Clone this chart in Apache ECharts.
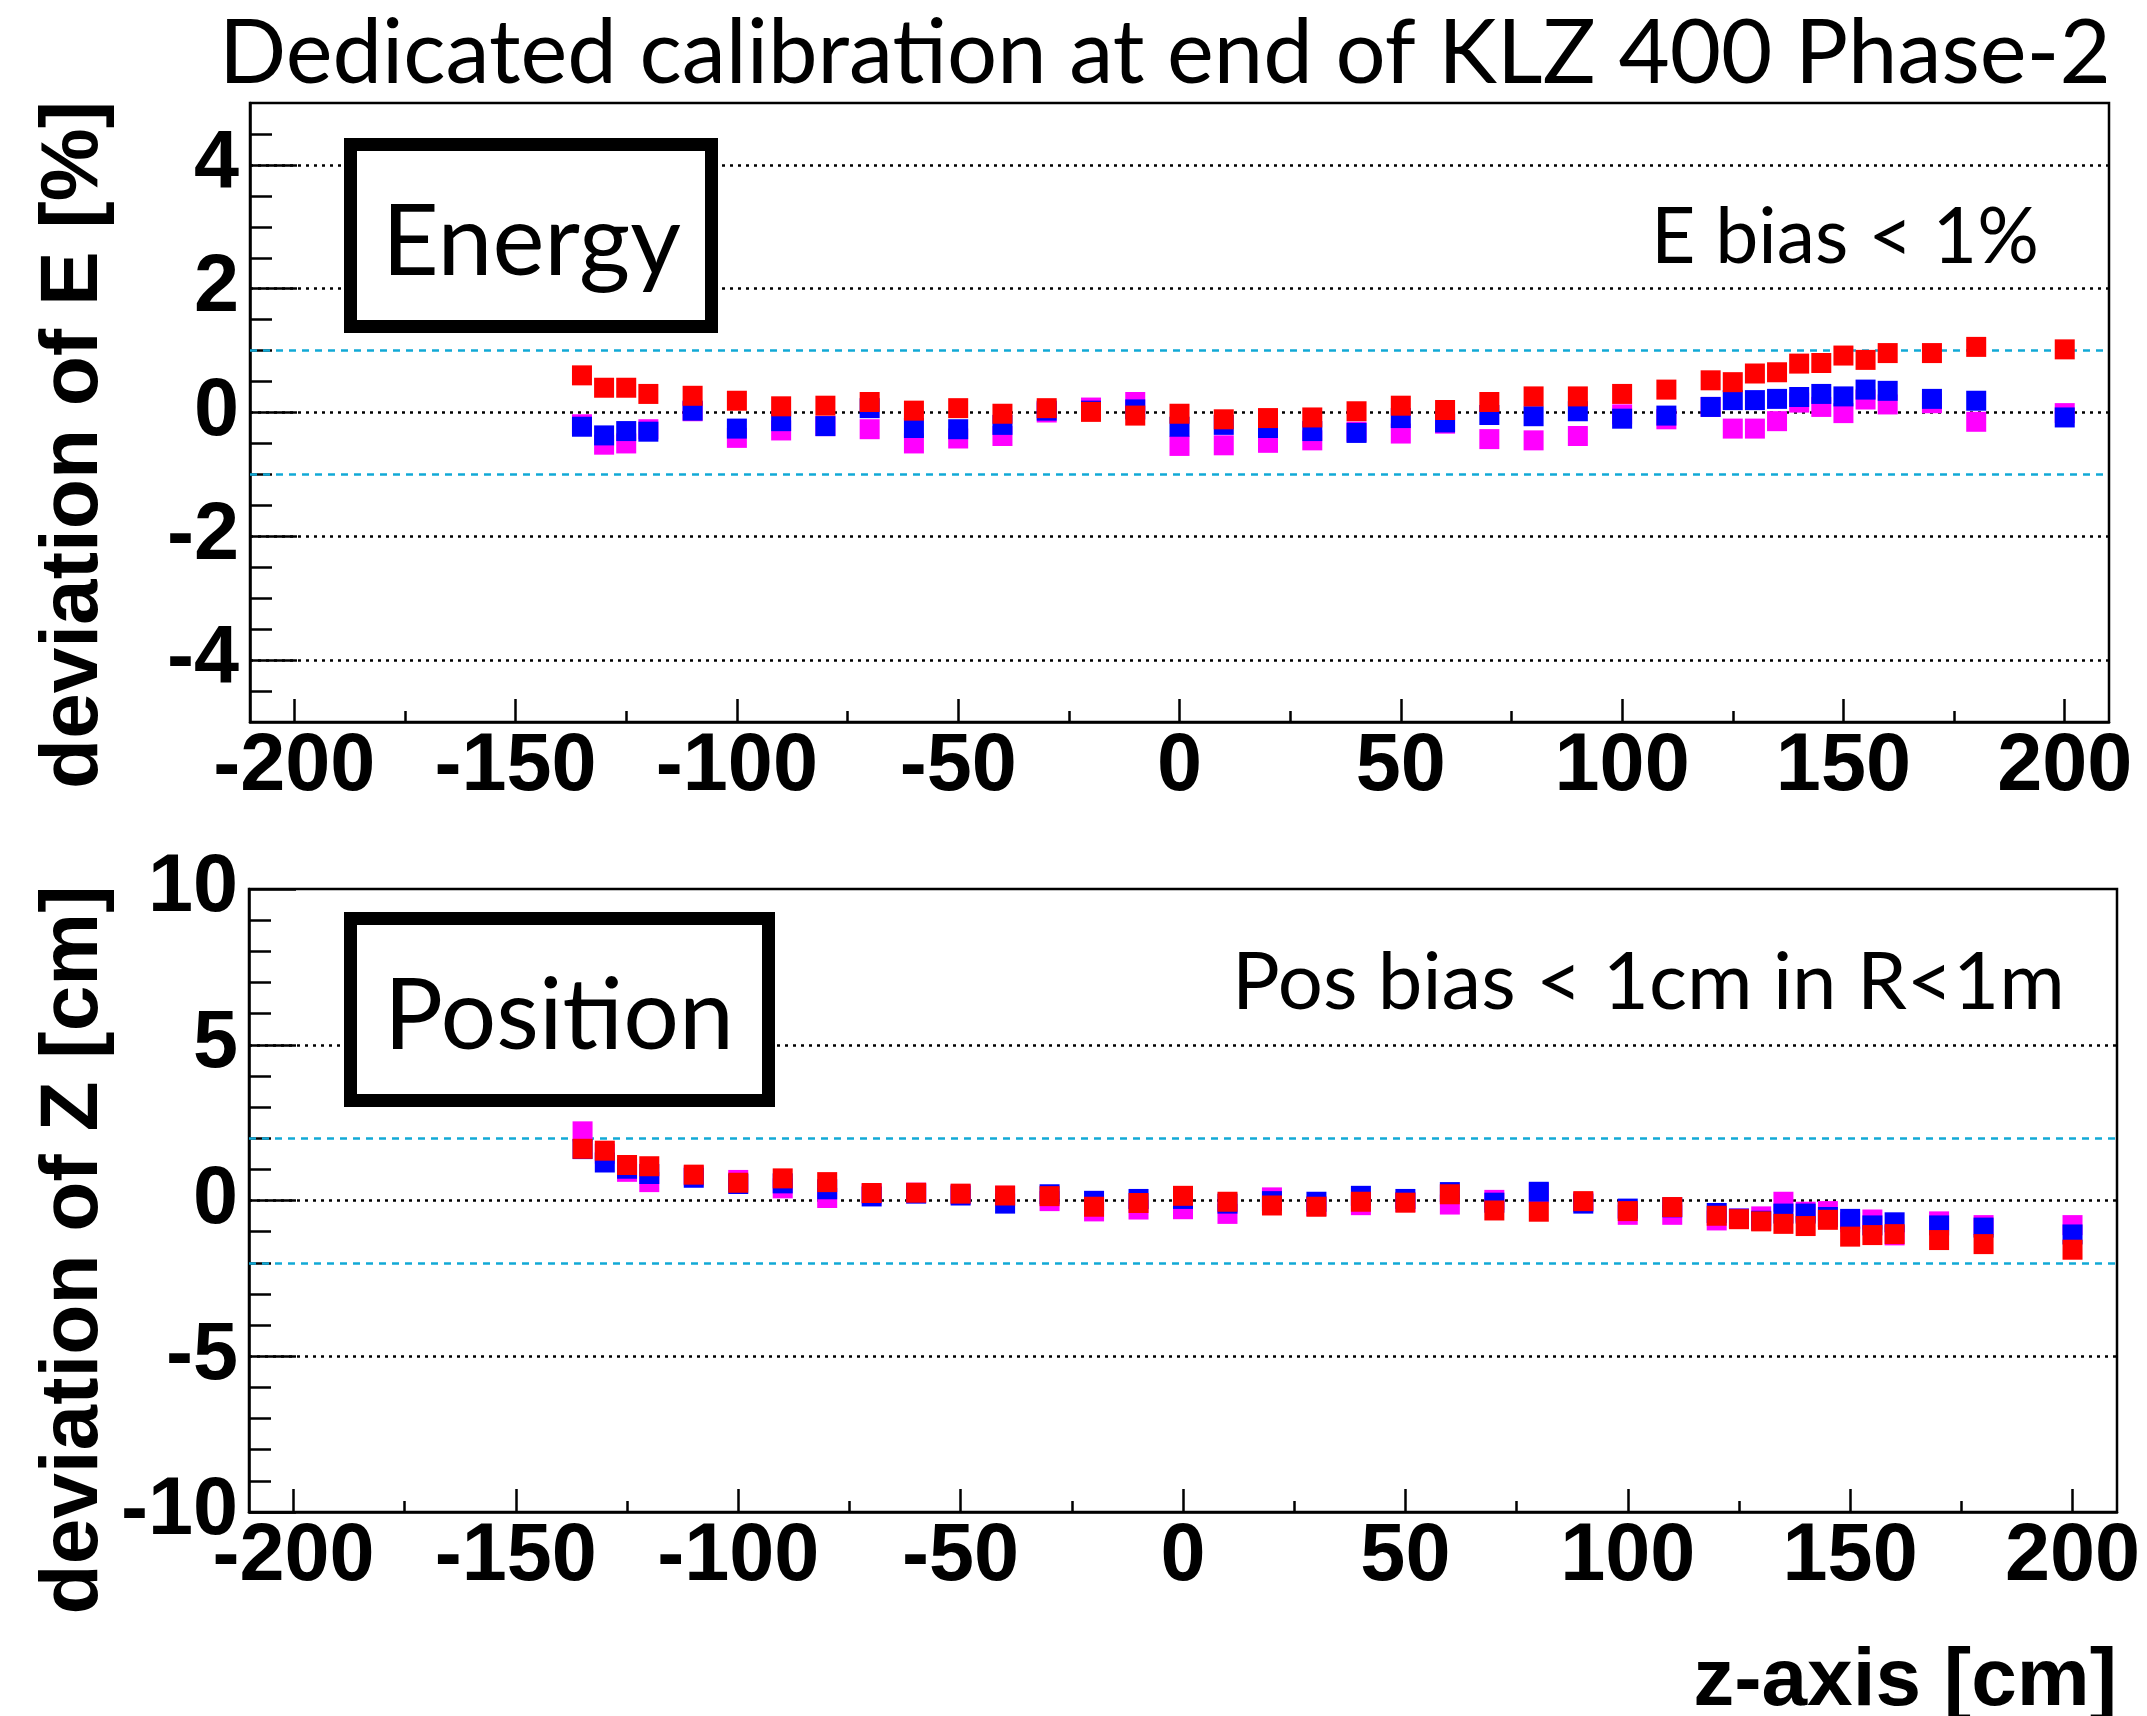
<!DOCTYPE html>
<html><head><meta charset="utf-8">
<script src="https://cdn.jsdelivr.net/npm/echarts@6/dist/echarts.min.js"></script>
<style>html,body{margin:0;padding:0;background:#fff}#c{width:2147px;height:1716px}</style>
</head><body><div id="c"></div><script>
// ---------- data ----------
const zPositions = [-135,-130,-125,-120,-110,-100,-90,-80,-70,-60,-50,-40,-30,-20,-10,0,10,20,30,40,50,60,70,80,90,100,110,120,125,130,135,140,145,150,155,160,170,180,200];

const eMagenta = [-0.19,-0.52,-0.50,-0.27,0.02,-0.41,-0.29,-0.22,-0.27,-0.50,-0.42,-0.38,0.00,0.08,0.17,-0.54,-0.53,-0.49,-0.45,-0.31,-0.34,-0.18,-0.43,-0.45,-0.38,-0.03,-0.11,0.09,-0.26,-0.26,-0.14,0.16,0.09,-0.01,0.21,0.13,0.15,-0.15,-0.01];
const eBlue = [-0.23,-0.37,-0.30,-0.31,0.03,-0.26,-0.14,-0.22,0.07,-0.25,-0.27,-0.20,0.03,0.03,0.05,-0.23,-0.20,-0.25,-0.30,-0.33,-0.09,-0.16,-0.04,-0.06,0.02,-0.10,-0.05,0.09,0.20,0.20,0.22,0.25,0.30,0.26,0.37,0.35,0.22,0.19,-0.08];
const eRed = [0.60,0.40,0.40,0.30,0.27,0.19,0.10,0.11,0.17,0.03,0.07,-0.02,0.07,0.01,-0.05,-0.02,-0.11,-0.09,-0.08,0.02,0.11,0.04,0.17,0.26,0.26,0.30,0.37,0.52,0.49,0.63,0.65,0.79,0.80,0.92,0.85,0.96,0.96,1.06,1.02];

const zMagenta = [2.22,1.50,0.92,0.59,0.80,0.66,0.39,0.08,0.22,0.25,0.20,0.15,-0.02,-0.35,-0.29,-0.28,-0.43,0.10,-0.18,-0.15,-0.05,-0.13,0.02,0.25,-0.05,-0.46,-0.46,-0.64,-0.58,-0.51,-0.04,-0.36,-0.34,-0.70,-0.61,-1.12,-0.67,-0.79,-0.79];
const zBlue = [1.65,1.22,1.02,0.85,0.73,0.53,0.55,0.36,0.13,0.22,0.16,-0.10,0.20,-0.01,0.05,0.05,-0.10,-0.02,-0.04,0.15,0.05,0.27,-0.07,0.28,-0.10,-0.26,-0.22,-0.40,-0.58,-0.65,-0.42,-0.42,-0.53,-0.59,-0.80,-0.70,-0.80,-0.87,-1.09];
const zRed = [1.66,1.60,1.14,1.10,0.83,0.57,0.71,0.59,0.24,0.25,0.22,0.16,0.14,-0.20,-0.08,0.15,-0.04,-0.16,-0.20,-0.04,-0.07,0.20,-0.32,-0.36,-0.02,-0.34,-0.21,-0.49,-0.60,-0.67,-0.75,-0.82,-0.62,-1.16,-1.11,-1.08,-1.27,-1.40,-1.58];

const xTickLabels = [-200,-150,-100,-50,0,50,100,150,200];
const xMinorTicks = [-175,-125,-75,-25,25,75,125,175];
const eTickLabels = [-4,-2,0,2,4];
const eMinorTicks = [-4.5,-3.5,-3,-2.5,-1.5,-1,-0.5,0.5,1,1.5,2.5,3,3.5,4.5];
const zTickLabels = [-10,-5,0,5,10];
const zMinorTicks = [-9,-8,-7,-6,-4,-3,-2,-1,1,2,3,4,6,7,8,9];
const eBandLines = [1,-1];
const zBandLines = [2,-2];

const titleText = 'Dedicated calibration at end of KLZ 400 Phase-2';
const eYTitle = 'deviation of E [%]';
const zYTitle = 'deviation of Z [cm]';
const xTitle = 'z-axis [cm]';
const eBoxText = 'Energy';
const zBoxText = 'Position';
const eNote = 'E bias < 1%';
const zNote = 'Pos bias < 1cm in R<1m';

// ---------- helpers ----------
const GILL = "Lato, 'Open Sans', sans-serif";
const HELV = "'Liberation Sans', Arial, sans-serif";
const cv = document.createElement('canvas').getContext('2d');
function fitSize(text, family, weight, width) {
  cv.font = weight + ' 100px ' + family;
  return 100 * width / cv.measureText(text).width;
}
function midShift(font) {
  cv.font = font;
  cv.textBaseline = 'alphabetic';
  const a = cv.measureText('H').actualBoundingBoxAscent;
  cv.textBaseline = 'middle';
  const b = cv.measureText('H').actualBoundingBoxAscent;
  cv.textBaseline = 'alphabetic';
  return a - b;
}
function textEl(text, family, weight, size, x, baseline, align, rot) {
  const font = weight + ' ' + size + 'px ' + family;
  const d = midShift(font);
  if (rot) {
    return {type:'text', z:20, x: baseline - d, y: x, rotation: Math.PI/2,
      style:{text, font, fill:'#000', textAlign: align, verticalAlign:'middle'}};
  }
  return {type:'text', z:20, x, y: baseline - d,
    style:{text, font, fill:'#000', textAlign: align, verticalAlign:'middle'}};
}
function fitText(text, family, weight, x0, x1, baseline) {
  const s = fitSize(text, family, weight, x1 - x0);
  return textEl(text, family, weight, s, x0, baseline, 'left');
}

const BLACK = '#000';
const LW = 2.5;
const labelStyle = {color: BLACK, fontFamily: HELV, fontWeight: 'bold', fontSize: 81};

function xAxes(gridIndex) {
  return [
    {type:'value', gridIndex, min:-210, max:210, position:'bottom',
     axisLine:{show:true, onZero:false, lineStyle:{color:BLACK, width:LW}},
     axisTick:{show:true, inside:true, length:23, customValues:xTickLabels, lineStyle:{color:BLACK, width:LW}},
     axisLabel:Object.assign({show:true, margin:5, customValues:xTickLabels}, labelStyle),
     splitLine:{show:false}},
    {type:'value', gridIndex, min:-210, max:210, position:'bottom',
     axisLine:{show:false, onZero:false},
     axisTick:{show:true, inside:true, length:11, customValues:xMinorTicks, lineStyle:{color:BLACK, width:LW}},
     axisLabel:{show:false}, splitLine:{show:false}}
  ];
}
function yAxes(gridIndex, mn, mx, major, minor) {
  return [
    {type:'value', gridIndex, min:mn, max:mx, position:'left',
     axisLine:{show:true, onZero:false, lineStyle:{color:BLACK, width:LW}},
     axisTick:{show:true, inside:true, length:47, customValues:major, lineStyle:{color:BLACK, width:LW}},
     axisLabel:Object.assign({show:true, margin:11, customValues:major}, labelStyle),
     splitLine:{show:false}},
    {type:'value', gridIndex, min:mn, max:mx, position:'left',
     axisLine:{show:false, onZero:false},
     axisTick:{show:true, inside:true, length:22, customValues:minor, lineStyle:{color:BLACK, width:LW}},
     axisLabel:{show:false}, splitLine:{show:false}}
  ];
}
function scatter(name, vals, color, xi, yi) {
  return {type:'scatter', name, xAxisIndex:xi, yAxisIndex:yi, symbol:'rect', symbolSize:20,
    z:3, silent:true, itemStyle:{color, opacity:1},
    data: zPositions.map((z, i) => [z, vals[i]])};
}
function refLines(xi, yi, grid, bands, mn, mx) {
  const dots = grid.filter(v => v > mn && v < mx).map(v => ({yAxis:v,
    lineStyle:{type:[3,5], color:BLACK, width:2.5}}));
  const dash = bands.map(v => ({yAxis:v, lineStyle:{type:[7,6], color:'#12a9d6', width:2.5}}));
  return {type:'line', xAxisIndex:xi, yAxisIndex:yi, data:[], z:1, silent:true,
    markLine:{silent:true, z:1, symbol:['none','none'], label:{show:false}, animation:false,
      data: dots.concat(dash)}};
}
function boxEl(x0, y0, x1, y1) {
  const w = 13;
  return {type:'rect', z:10, shape:{x:x0 + w/2, y:y0 + w/2, width:x1 - x0 - w, height:y1 - y0 - w},
    style:{fill:'#fff', stroke:BLACK, lineWidth:w}};
}

const chart = echarts.init(document.getElementById('c'), null, {renderer:'canvas'});
chart.setOption({
  animation:false,
  backgroundColor:'#fff',
  grid:[
    {left:250, top:103, width:1859, height:619, show:true, borderColor:BLACK, borderWidth:LW, backgroundColor:'#fff'},
    {left:249, top:889, width:1868, height:623, show:true, borderColor:BLACK, borderWidth:LW, backgroundColor:'#fff'}
  ],
  xAxis: xAxes(0).concat(xAxes(1)),
  yAxis: yAxes(0, -5, 5, eTickLabels, eMinorTicks).concat(yAxes(1, -10, 10, zTickLabels, zMinorTicks)),
  series:[
    refLines(0, 0, eTickLabels, eBandLines, -5, 5),
    scatter('E magenta', eMagenta, '#ff00ff', 0, 0),
    scatter('E blue', eBlue, '#0000ff', 0, 0),
    scatter('E red', eRed, '#ff0000', 0, 0),
    refLines(2, 2, zTickLabels, zBandLines, -10, 10),
    scatter('Z magenta', zMagenta, '#ff00ff', 2, 2),
    scatter('Z blue', zBlue, '#0000ff', 2, 2),
    scatter('Z red', zRed, '#ff0000', 2, 2)
  ],
  graphic:[
    fitText(titleText, GILL, 'normal', 219, 2111, 83),
    boxEl(344, 138, 718, 333),
    fitText(eBoxText, GILL, 'normal', 382, 681, 275),
    boxEl(344, 912, 775, 1107),
    fitText(zBoxText, GILL, 'normal', 384, 734, 1049),
    fitText(eNote, GILL, 'normal', 1651, 2039, 263),
    fitText(zNote, GILL, 'normal', 1232, 2065, 1009),
    textEl(eYTitle, HELV, 'bold', 82, 445, 97, 'center', true),
    textEl(zYTitle, HELV, 'bold', 82, 1250, 97, 'center', true),
    textEl(xTitle, HELV, 'bold', 82, 2117, 1705, 'right', false)
  ]
});
</script></body></html>
